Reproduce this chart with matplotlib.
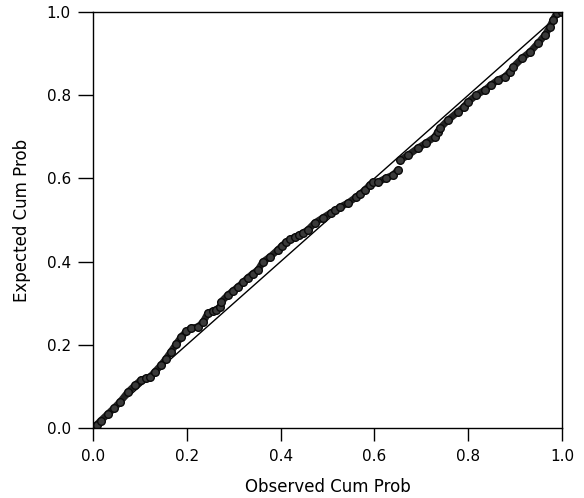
import numpy as np
import matplotlib.pyplot as plt

# P-P plot values
observed = [0.000, 0.008, 0.016, 0.032, 0.045, 0.058, 0.075, 0.090, 0.102, 0.112,
            0.122, 0.132, 0.145, 0.156, 0.166, 0.177, 0.188, 0.199, 0.209, 0.224,
            0.235, 0.245, 0.255, 0.262, 0.271,
            0.273, 0.288, 0.299, 0.309, 0.320, 0.330, 0.341, 0.352, 0.362, 0.377,
            0.394, 0.403, 0.412, 0.421, 0.431, 0.440, 0.448, 0.458, 0.473, 0.490,
            0.507, 0.517, 0.527, 0.544, 0.561, 0.570, 0.580, 0.590, 0.597, 0.608,
            0.625, 0.640, 0.650,
            0.655, 0.672, 0.693, 0.710, 0.729, 0.735, 0.740, 0.757, 0.778, 0.790,
            0.800, 0.817, 0.836, 0.849, 0.864, 0.878, 0.889, 0.896, 0.915, 0.932,
            0.949, 0.964, 0.974, 0.981, 0.989, 1.000]
expected = [0.000, 0.008, 0.017, 0.034, 0.048, 0.063, 0.087, 0.103, 0.115, 0.119,
            0.123, 0.135, 0.151, 0.167, 0.183, 0.201, 0.219, 0.232, 0.240, 0.243,
            0.255, 0.276, 0.281, 0.284, 0.291,
            0.303, 0.320, 0.330, 0.339, 0.350, 0.361, 0.371, 0.380, 0.399, 0.411,
            0.428, 0.438, 0.447, 0.454, 0.459, 0.464, 0.469, 0.476, 0.493, 0.505,
            0.517, 0.524, 0.531, 0.541, 0.555, 0.563, 0.572, 0.584, 0.591, 0.591,
            0.601, 0.608, 0.620,
            0.644, 0.656, 0.673, 0.685, 0.700, 0.712, 0.721, 0.740, 0.760, 0.771,
            0.784, 0.800, 0.813, 0.825, 0.837, 0.844, 0.856, 0.868, 0.889, 0.904,
            0.925, 0.945, 0.964, 0.981, 0.998, 1.000]
# the marker chain is broken after these points
gap_idx = [25, 58]

ticks = [0.0, 0.2, 0.4, 0.6, 0.8, 1.0]

plt.rcParams['font.family'] = ['DejaVu Sans']

fig = plt.figure(figsize=(5.84, 4.98), dpi=100)
ax = fig.add_axes([93 / 584, 70 / 498, 469 / 584, 416 / 498])

# reference diagonal
ax.plot([0, 1], [0, 1], color='black', lw=1.0)

obs = np.array(observed)
exp = np.array(expected)
bounds = [0] + gap_idx + [len(obs)]
for a, b in zip(bounds[:-1], bounds[1:]):
    ax.plot(obs[a:b], exp[a:b], color='#222222', lw=5.0, solid_capstyle='round',
            solid_joinstyle='round')
    ax.plot(obs[a:b], exp[a:b], ls='none', marker='o', ms=5.5, mfc='#3a3a3a',
            mec='#0a0a0a', mew=1.0)

ax.set_xlim(0, 1)
ax.set_ylim(0, 1)
ax.set_xticks(ticks)
ax.set_yticks(ticks)
ax.set_xticklabels(['%.1f' % t for t in ticks])
ax.set_yticklabels(['%.1f' % t for t in ticks])
ax.tick_params(axis='x', direction='out', length=9, width=1, pad=6, labelsize=11)
ax.tick_params(axis='y', direction='out', length=11, width=1, pad=5, labelsize=11)
for s in ax.spines.values():
    s.set_linewidth(1.0)

ax.set_xlabel('Observed Cum Prob', fontsize=12, labelpad=10)
ax.set_ylabel('Expected Cum Prob', fontsize=12, labelpad=11)

fig.savefig('out.png', dpi=100)
